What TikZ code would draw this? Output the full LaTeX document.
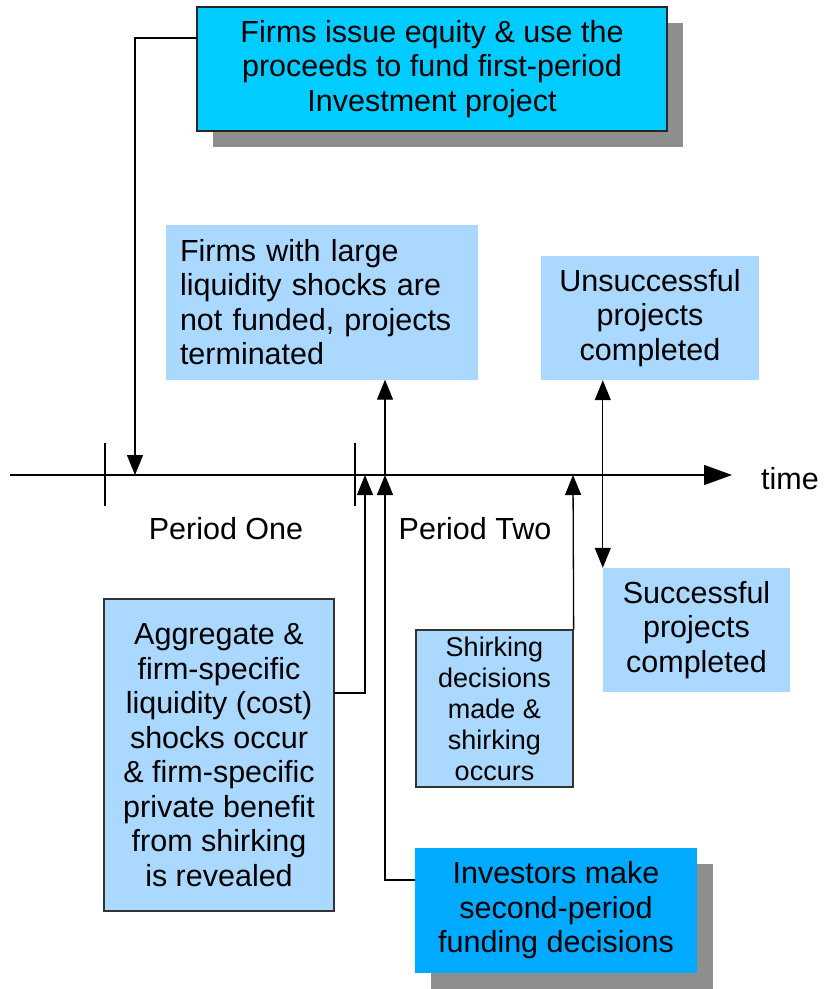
\documentclass[tikz,border=0pt]{standalone}
\usepackage{fontspec}
\setmainfont{Liberation Sans}
\usetikzlibrary{arrows.meta,shadows}
\definecolor{deepcyan}{RGB}{0,204,255}
\definecolor{deepblue}{RGB}{0,170,255}
\definecolor{paleblue}{RGB}{170,216,255}
\definecolor{shadowgray}{RGB}{142,142,142}
\tikzset{
    event-box/.style = {fill=paleblue, inner sep=0pt, align=center, font=\fontsize{30.5}{34.5}\selectfont},
    framed-box/.style = {event-box, draw=black!80, line width=1.3pt},
    key-box/.style = {inner sep=0pt, align=center, font=\fontsize{30.5}{34.5}\selectfont,
        drop shadow={shadow xshift=16pt, shadow yshift=-16pt, fill=shadowgray, opacity=1}},
    link/.style = {line width=1.3pt, >={Triangle[length=20pt,width=16pt]}, ->},
    axis-label/.style = {font=\fontsize{30.5}{34}\selectfont},
}

\begin{document}
\begin{tikzpicture}[x=1pt,y=-1pt]
\useasboundingbox (0,0) rectangle (824,989);

\node [key-box, fill=deepcyan, draw=black!85, line width=1.3pt, minimum width=470pt, minimum height=124pt] (equity) at (432,69)
    {Firms issue equity \& use the\\proceeds to fund first-period\\Investment project};
\node [event-box, align=left, inner xsep=14pt, text width=284pt, minimum height=155pt] (large) at (322,302)
    {Firms with large\\liquidity shocks are\\not funded, projects\\terminated};
\node [event-box, minimum width=218pt, minimum height=124pt] (unsucc) at (650,318)
    {Unsuccessful\\projects\\completed};
\node [event-box, minimum width=187pt, minimum height=124pt] (succ) at (696.5,630)
    {Successful\\projects\\completed};
\node [framed-box, minimum width=230pt, minimum height=312pt] (aggr) at (219,755)
    {Aggregate \&\\firm-specific\\liquidity (cost)\\shocks occur\\\& firm-specific\\private benefit\\from shirking\\is revealed};
\node [framed-box, font=\fontsize{27}{31}\selectfont, minimum width=157pt, minimum height=157pt] (shirk) at (494.5,708.5)
    {Shirking\\decisions\\made \&\\shirking\\occurs};
\node [key-box, fill=deepblue, minimum width=282pt, minimum height=125pt] (invest) at (556,910.5)
    {Investors make\\second-period\\funding decisions};

\coordinate (start) at (10,475);
\coordinate (end) at (732,475);
\node [axis-label] (time) at (790,479) {time};
\node [axis-label] (one) at (226,529) {Period One};
\node [axis-label] (two) at (475,529) {Period Two};

\draw [line width=1.3pt, -{Triangle[length=28pt,width=20pt]}] (start) -- (end);
\draw [line width=1.1pt] (105,443) -- (105,506);
\draw [line width=1.1pt] (355,443) -- (355,506);

\coordinate (equity-out) at (197,38);
\coordinate (aggr-out) at (334,693);
\coordinate (invest-out) at (415,880);
\coordinate (t1) at (135,475);
\coordinate (t2) at (365,475);
\coordinate (t3) at (385,475);
\coordinate (t4) at (573,475);

\draw [link] (equity-out) -| (t1);
\draw [link] (aggr-out) -| (t2);
\draw [link] (invest-out) -| (t3);
\draw [link] (t3) -- (t3 |- large.south);
\draw [link] (shirk.north east) -- (t4);
\draw [link, <->] (succ.north west |- unsucc.south) -- (succ.north west);
\end{tikzpicture}
\end{document}
